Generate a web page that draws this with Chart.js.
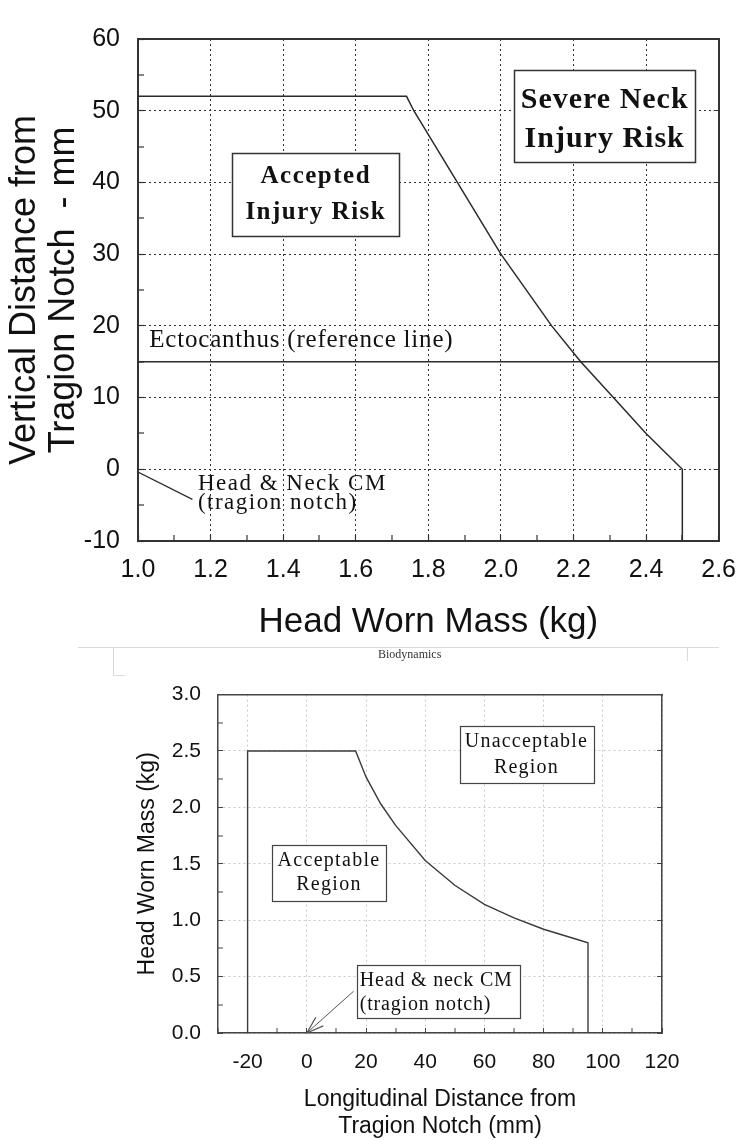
<!DOCTYPE html>
<html lang="en">
<head>
  <meta charset="UTF-8"/>
  <title>Head Worn Mass Limits</title>
  <style>
    body { margin: 0; background: #fff; }
    #page { position: relative; width: 756px; height: 1140px; overflow: hidden; }
    canvas { position: absolute; left: 0; }
    #topChart { top: 0; }
    #bottomChart { top: 660px; }
    .rule { position: absolute; background: #dadada; }
    #hdrText { position: absolute; left: 378px; top: 647px; font: 12px 'Liberation Serif', serif; color: #333; }
  </style>
</head>
<body>
  <div id="page">
    <canvas id="topChart" width="756" height="650"></canvas>
    <div class="rule" style="left:78px;top:647px;width:641px;height:1px"></div>
    <div class="rule" style="left:113px;top:647px;width:1px;height:28px"></div>
    <div class="rule" style="left:113px;top:675px;width:12px;height:1px"></div>
    <div class="rule" style="left:687px;top:647px;width:1px;height:14px"></div>
    <div id="hdrText">Biodynamics</div>
    <canvas id="bottomChart" width="756" height="480"></canvas>
  </div>

  <script src="https://cdn.jsdelivr.net/npm/chart.js"></script>

  <script>
  // ---- top chart: vertical CM offset vs head worn mass ----
  const massKg      = [1.0, 1.74, 1.76, 1.88, 2.0, 2.14, 2.22, 2.31, 2.40, 2.5, 2.5];
  const vertDistMm  = [52, 52, 50, 40, 30, 20, 15, 10, 5, 0, -10];
  const ectoMassKg  = [1.0, 2.6];
  const ectoDistMm  = [15, 15];
  const cmLeadKg    = [1.0, 1.15];
  const cmLeadMm    = [-0.4, -4.2];
  const topXTicks   = [1.0, 1.2, 1.4, 1.6, 1.8, 2.0, 2.2, 2.4, 2.6];
  const topYTicks   = [-10, 0, 10, 20, 30, 40, 50, 60];

  // ---- bottom chart: head worn mass vs longitudinal CM offset ----
  const longDistMm  = [-20, -20, 16.5, 20, 25, 30, 40, 50, 60, 70, 80, 90, 95, 95];
  const wornMassKg  = [0, 2.5, 2.5, 2.27, 2.03, 1.84, 1.53, 1.31, 1.14, 1.02, 0.92, 0.84, 0.80, 0];
  const cmArrowMm   = [15.8, 0];
  const cmArrowKg   = [0.37, 0];
  const botXTicks   = [-20, 0, 20, 40, 60, 80, 100, 120];
  const botYTicks   = [0, 0.5, 1.0, 1.5, 2.0, 2.5, 3.0];

  Chart.defaults.font.family = "'Liberation Sans', Arial, sans-serif";
  Chart.defaults.color = '#111';

  const pts = (xs, ys) => xs.map((x, i) => ({x, y: ys[i]}));
  const onList = (list, v) => list.some(t => Math.abs(t - v) < 1e-6);
  const major = list => c => (!c.tick || onList(list, c.tick.value)) ? 1 : 0;

  // text boxes, free labels and arrow heads
  const notes = {
    id: 'notes',
    afterDatasetsDraw(chart, args, opts) {
      const {ctx} = chart;
      const sx = chart.scales.x, sy = chart.scales.y;
      ctx.save();
      (opts.items || []).forEach(n => {
        if (n.frame) {
          const l = Math.round(sx.getPixelForValue(n.frame[0])) + 0.5;
          const r = Math.round(sx.getPixelForValue(n.frame[2])) + 0.5;
          const t = Math.round(sy.getPixelForValue(n.frame[1])) + 0.5;
          const b = Math.round(sy.getPixelForValue(n.frame[3])) + 0.5;
          ctx.fillStyle = '#fff';
          ctx.fillRect(l, t, r - l, b - t);
          ctx.lineWidth = opts.frameWidth;
          ctx.strokeStyle = opts.frameColor;
          ctx.strokeRect(l, t, r - l, b - t);
        }
        ctx.font = n.font;
        ctx.letterSpacing = n.spacing || '0px';
        ctx.fillStyle = '#111';
        ctx.textAlign = n.align || 'center';
        ctx.textBaseline = 'middle';
        const ax = sx.getPixelForValue(n.at[0]), ay = sy.getPixelForValue(n.at[1]);
        n.lines.forEach((s, i) => ctx.fillText(s, ax, ay + i * n.gap));
      });
      (opts.arrows || []).forEach(a => {
        const d = chart.getDatasetMeta(a.dataset).data;
        const p0 = d[0], p1 = d[d.length - 1];
        const ang = Math.atan2(p1.y - p0.y, p1.x - p0.x);
        ctx.strokeStyle = a.color;
        ctx.lineWidth = 1.2;
        ctx.beginPath();
        [-1, 1].forEach(sg => {
          ctx.moveTo(p1.x, p1.y);
          ctx.lineTo(p1.x - a.len * Math.cos(ang + sg * a.spread), p1.y - a.len * Math.sin(ang + sg * a.spread));
        });
        ctx.stroke();
      });
      ctx.restore();
    }
  };

  const lineSet = (data, color, width) => ({
    data, showLine: true, pointRadius: 0, borderColor: color, borderWidth: width, fill: false
  });

  new Chart(document.getElementById('topChart'), {
    type: 'scatter',
    data: {
      datasets: [
        lineSet(pts(massKg, vertDistMm), '#2b2b2b', 1.5),
        lineSet(pts(ectoMassKg, ectoDistMm), '#2b2b2b', 1.5),
        lineSet(pts(cmLeadKg, cmLeadMm), '#2b2b2b', 1.2)
      ]
    },
    options: {
      responsive: false, animation: false, devicePixelRatio: 1,
      layout: { padding: { left: 0, right: 21, top: 20, bottom: 0 } },
      plugins: {
        legend: { display: false }, tooltip: { enabled: false },
        notes: {
          frameColor: '#333', frameWidth: 1.5,
          items: [
            { frame: [1.26, 44.1, 1.72, 32.5], at: [1.49, 40.8], lines: ['Accepted', 'Injury Risk'], gap: 36,
              font: "bold 25px 'Liberation Serif'", spacing: '1.5px' },
            { frame: [2.037, 55.7, 2.536, 42.8], at: [2.286, 51.5], lines: ['Severe Neck', 'Injury Risk'], gap: 39,
              font: "bold 30px 'Liberation Serif'", spacing: '1px' },
            { at: [1.031, 17.9], align: 'left', lines: ['Ectocanthus (reference line)'], gap: 0,
              font: "25px 'Liberation Serif'", spacing: '0.8px' },
            { at: [1.165, -2.1], align: 'left', lines: ['Head & Neck CM', '(tragion notch)'], gap: 19,
              font: "23px 'Liberation Serif'", spacing: '1.5px' }
          ]
        }
      },
      scales: {
        x: {
          type: 'linear', position: 'bottom', min: 1.0, max: 2.6,
          afterFit: s => { s.height = 109; },
          ticks: { stepSize: 0.1, autoSkip: false, maxRotation: 0, padding: 20, font: { size: 25 },
                   callback: v => onList(topXTicks, v) ? v.toFixed(1) : '' },
          grid: { color: '#333', lineWidth: major(topXTicks), tickLength: -6, tickColor: '#333', tickWidth: 1.2 },
          border: { color: '#333', width: 2, dash: [2, 3] },
          title: { display: true, text: 'Head Worn Mass (kg)', font: { size: 35 }, padding: { top: 0, bottom: 7 } }
        },
        x2: {
          type: 'linear', position: 'top', min: 1.0, max: 2.6,
          afterFit: s => { s.height = 0; },
          ticks: { display: false }, grid: { display: false },
          border: { color: '#333', width: 2 }
        },
        y: {
          type: 'linear', position: 'left', min: -10, max: 60,
          afterFit: s => { s.width = 138; },
          ticks: { stepSize: 5, autoSkip: false, padding: 24, font: { size: 25 },
                   callback: v => onList(topYTicks, v) ? String(v) : '' },
          grid: { color: '#333', lineWidth: major(topYTicks), tickLength: -6, tickColor: '#333', tickWidth: 1.2 },
          border: { color: '#333', width: 2, dash: [2, 3] },
          title: { display: true, text: ['Vertical Distance from', 'Tragion Notch  - mm'],
                   font: { size: 36, lineHeight: 1.1 }, padding: { top: 5, bottom: 0 } }
        },
        y2: {
          type: 'linear', position: 'right', min: -10, max: 60,
          afterFit: s => { s.width = 0; },
          ticks: { display: false, stepSize: 10 },
          grid: { drawOnChartArea: false, tickLength: -5, tickColor: '#333', tickWidth: 1 },
          border: { color: '#333', width: 2 }
        }
      }
    },
    plugins: [notes]
  });

  new Chart(document.getElementById('bottomChart'), {
    type: 'scatter',
    data: {
      datasets: [
        lineSet(pts(longDistMm, wornMassKg), '#3a3a3a', 1.4),
        lineSet(pts(cmArrowMm, cmArrowKg), '#555', 1)
      ]
    },
    options: {
      responsive: false, animation: false, devicePixelRatio: 1,
      layout: { padding: { left: 0, right: 94, top: 12, bottom: 0 } },
      plugins: {
        legend: { display: false }, tooltip: { enabled: false },
        notes: {
          frameColor: '#444', frameWidth: 1.2,
          items: [
            { frame: [-11.6, 1.664, 26.6, 1.166], at: [7.5, 1.523], lines: ['Acceptable', 'Region'], gap: 24,
              font: "20px 'Liberation Serif'", spacing: '1.3px' },
            { frame: [51.6, 2.718, 96.9, 2.212], at: [74.2, 2.585], lines: ['Unacceptable', 'Region'], gap: 26,
              font: "20px 'Liberation Serif'", spacing: '1.2px' },
            { frame: [16.8, 0.602, 71.9, 0.137], at: [17.9, 0.46], align: 'left', lines: ['Head & neck CM', '(tragion notch)'], gap: 24,
              font: "20px 'Liberation Serif'", spacing: '0.8px' }
          ],
          arrows: [ { dataset: 1, color: '#555', len: 18, spread: 0.32 } ]
        }
      },
      scales: {
        x: {
          type: 'linear', position: 'bottom', min: -30, max: 120,
          afterFit: s => { s.height = 107; },
          ticks: { stepSize: 10, autoSkip: false, maxRotation: 0, padding: 22, font: { size: 21 },
                   callback: v => onList(botXTicks, v) ? String(v) : '' },
          grid: { color: '#c8c8c8', lineWidth: major(botXTicks), tickLength: -5, tickColor: '#444', tickWidth: 1 },
          border: { color: '#444', width: 1.5, dash: [2, 3] },
          title: { display: true, text: ['Longitudinal Distance from', 'Tragion Notch (mm)'],
                   font: { size: 23, lineHeight: 1.17 }, padding: { top: 0, bottom: 0 } }
        },
        x2: {
          type: 'linear', position: 'top', min: -30, max: 120,
          afterFit: s => { s.height = 0; },
          ticks: { display: false }, grid: { display: false },
          border: { color: '#444', width: 1.5 }
        },
        y: {
          type: 'linear', position: 'left', min: 0, max: 3,
          afterFit: s => { s.width = 218; },
          ticks: { stepSize: 0.25, autoSkip: false, padding: 22, font: { size: 21 },
                   callback: v => onList(botYTicks, v) ? v.toFixed(1) : '' },
          grid: { color: '#c8c8c8', lineWidth: major(botYTicks), tickLength: -5, tickColor: '#444', tickWidth: 1 },
          border: { color: '#444', width: 1.5, dash: [2, 3] },
          title: { display: true, text: 'Head Worn Mass (kg)', font: { size: 23 }, padding: { top: 134, bottom: 0 } }
        },
        y2: {
          type: 'linear', position: 'right', min: 0, max: 3,
          afterFit: s => { s.width = 0; },
          ticks: { display: false, stepSize: 0.5 },
          grid: { drawOnChartArea: false, tickLength: -5, tickColor: '#444', tickWidth: 1 },
          border: { color: '#444', width: 1.5 }
        }
      }
    },
    plugins: [notes]
  });
  </script>
</body>
</html>
